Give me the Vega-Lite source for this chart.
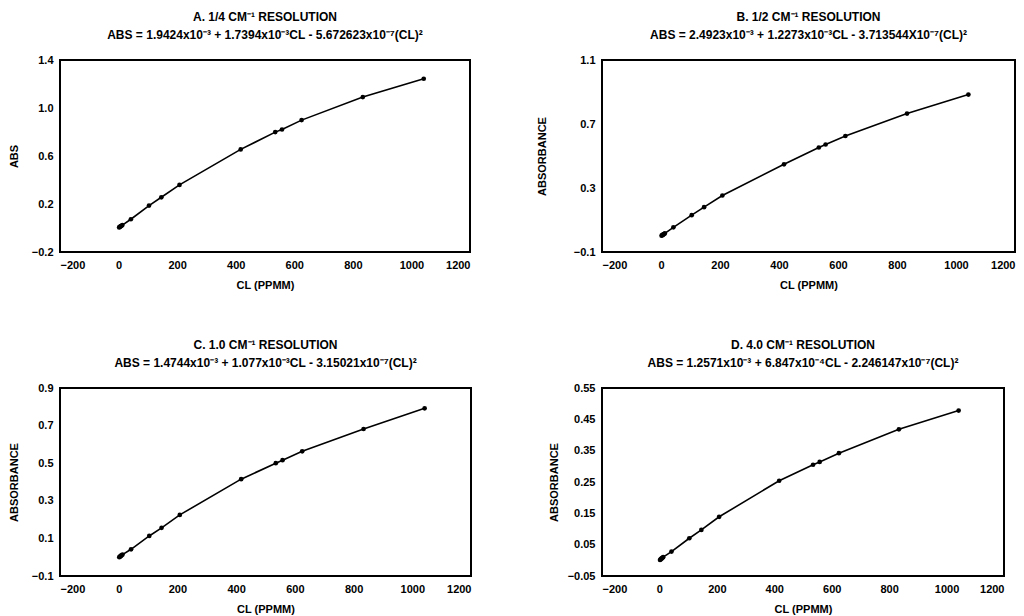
{
  "$schema": "https://vega.github.io/schema/vega-lite/v6.json",
  "background": "white",
  "padding": {"left": 7, "top": 10, "right": 2, "bottom": 2},
  "config": {
    "view": {"stroke": "black", "strokeWidth": 2},
    "axis": {"domain": false, "ticks": false, "grid": false, "labelFont": "Liberation Sans", "labelFontWeight": "bold", "labelFontSize": 11, "labelColor": "black", "titleFont": "Liberation Sans", "titleFontWeight": "bold", "titleFontSize": 11, "titleColor": "black"},
    "axisX": {"labelPadding": 7, "titlePadding": 9},
    "axisY": {"labelPadding": 7},
    "title": {"font": "Liberation Sans", "fontWeight": "bold", "fontSize": 12, "color": "black", "anchor": "middle", "offset": 12, "subtitleFont": "Liberation Sans", "subtitleFontWeight": "bold", "subtitleFontSize": 12, "subtitleColor": "black", "subtitlePadding": 6},
    "line": {"color": "black", "strokeWidth": 1.6},
    "point": {"color": "black", "filled": true, "size": 22, "opacity": 1}
  },
  "columns": 2,
  "spacing": {"row": 136, "column": 131},
  "bounds": "flush",
  "concat": [
    {
      "width": 410, "height": 192,
      "title": {"text": "A. 1/4 CM⁻¹ RESOLUTION", "subtitle": "ABS = 1.9424x10⁻³ + 1.7394x10⁻³CL - 5.672623x10⁻⁷(CL)²"},
      "data": {"values": [
        {"cl": 2, "abs": 0.005}, {"cl": 4, "abs": 0.009}, {"cl": 6, "abs": 0.012}, {"cl": 8, "abs": 0.016}, {"cl": 10, "abs": 0.019}, {"cl": 13, "abs": 0.024},
        {"cl": 42, "abs": 0.073}, {"cl": 104, "abs": 0.187}, {"cl": 146, "abs": 0.256}, {"cl": 208, "abs": 0.359}, {"cl": 417, "abs": 0.655},
        {"cl": 535, "abs": 0.799}, {"cl": 558, "abs": 0.821}, {"cl": 625, "abs": 0.899}, {"cl": 834, "abs": 1.091}, {"cl": 1042, "abs": 1.244}
      ]},
      "encoding": {
        "x": {"field": "cl", "type": "quantitative", "title": "CL  (PPMM)", "scale": {"domain": [-200, 1200], "nice": false, "zero": false}, "axis": {"values": [-200, 0, 200, 400, 600, 800, 1000, 1200], "format": "d"}},
        "y": {"field": "abs", "type": "quantitative", "title": "ABS", "scale": {"domain": [-0.2, 1.4], "nice": false, "zero": false}, "axis": {"values": [-0.2, 0.2, 0.6, 1.0, 1.4], "format": ".1f", "titlePadding": 12}}
      },
      "layer": [{"mark": "line"}, {"mark": "point"}]
    },
    {
      "width": 413, "height": 192,
      "title": {"text": "B. 1/2 CM⁻¹ RESOLUTION", "subtitle": "ABS = 2.4923x10⁻³ + 1.2273x10⁻³CL - 3.713544X10⁻⁷(CL)²"},
      "data": {"values": [
        {"cl": 2, "abs": 0.002}, {"cl": 4, "abs": 0.005}, {"cl": 6, "abs": 0.007}, {"cl": 8, "abs": 0.010}, {"cl": 10, "abs": 0.012}, {"cl": 13, "abs": 0.016},
        {"cl": 42, "abs": 0.054}, {"cl": 104, "abs": 0.130}, {"cl": 146, "abs": 0.180}, {"cl": 208, "abs": 0.253}, {"cl": 417, "abs": 0.448},
        {"cl": 535, "abs": 0.553}, {"cl": 558, "abs": 0.572}, {"cl": 625, "abs": 0.625}, {"cl": 834, "abs": 0.765}, {"cl": 1042, "abs": 0.884}
      ]},
      "encoding": {
        "x": {"field": "cl", "type": "quantitative", "title": "CL  (PPMM)", "scale": {"domain": [-200, 1200], "nice": false, "zero": false}, "axis": {"values": [-200, 0, 200, 400, 600, 800, 1000, 1200], "format": "d"}},
        "y": {"field": "abs", "type": "quantitative", "title": "ABSORBANCE", "scale": {"domain": [-0.1, 1.1], "nice": false, "zero": false}, "axis": {"values": [-0.1, 0.3, 0.7, 1.1], "format": ".1f", "titlePadding": 26}}
      },
      "layer": [{"mark": "line"}, {"mark": "point"}]
    },
    {
      "width": 411, "height": 188,
      "title": {"text": "C. 1.0 CM⁻¹ RESOLUTION", "subtitle": "ABS = 1.4744x10⁻³ + 1.077x10⁻³CL - 3.15021x10⁻⁷(CL)²"},
      "data": {"values": [
        {"cl": 2, "abs": 0.000}, {"cl": 4, "abs": 0.003}, {"cl": 6, "abs": 0.005}, {"cl": 8, "abs": 0.008}, {"cl": 10, "abs": 0.010}, {"cl": 13, "abs": 0.014},
        {"cl": 42, "abs": 0.042}, {"cl": 104, "abs": 0.113}, {"cl": 146, "abs": 0.156}, {"cl": 208, "abs": 0.225}, {"cl": 417, "abs": 0.415},
        {"cl": 535, "abs": 0.500}, {"cl": 558, "abs": 0.516}, {"cl": 625, "abs": 0.563}, {"cl": 834, "abs": 0.682}, {"cl": 1042, "abs": 0.792}
      ]},
      "encoding": {
        "x": {"field": "cl", "type": "quantitative", "title": "CL  (PPMM)", "scale": {"domain": [-200, 1200], "nice": false, "zero": false}, "axis": {"values": [-200, 0, 200, 400, 600, 800, 1000, 1200], "format": "d"}},
        "y": {"field": "abs", "type": "quantitative", "title": "ABSORBANCE", "scale": {"domain": [-0.1, 0.9], "nice": false, "zero": false}, "axis": {"values": [-0.1, 0.1, 0.3, 0.5, 0.7, 0.9], "format": ".1f", "titlePadding": 12}}
      },
      "layer": [{"mark": "line"}, {"mark": "point"}]
    },
    {
      "width": 402, "height": 188,
      "title": {"text": "D. 4.0 CM⁻¹ RESOLUTION", "subtitle": "ABS = 1.2571x10⁻³ + 6.847x10⁻⁴CL - 2.246147x10⁻⁷(CL)²"},
      "data": {"values": [
        {"cl": 2, "abs": 0.001}, {"cl": 4, "abs": 0.003}, {"cl": 6, "abs": 0.005}, {"cl": 8, "abs": 0.006}, {"cl": 10, "abs": 0.008}, {"cl": 13, "abs": 0.010},
        {"cl": 42, "abs": 0.028}, {"cl": 104, "abs": 0.0705}, {"cl": 146, "abs": 0.097}, {"cl": 208, "abs": 0.139}, {"cl": 417, "abs": 0.254},
        {"cl": 535, "abs": 0.305}, {"cl": 558, "abs": 0.314}, {"cl": 625, "abs": 0.342}, {"cl": 834, "abs": 0.418}, {"cl": 1042, "abs": 0.478}
      ]},
      "encoding": {
        "x": {"field": "cl", "type": "quantitative", "title": "CL  (PPMM)", "scale": {"domain": [-200, 1200], "nice": false, "zero": false}, "axis": {"values": [-200, 0, 200, 400, 600, 800, 1000, 1200], "format": "d"}},
        "y": {"field": "abs", "type": "quantitative", "title": "ABSORBANCE", "scale": {"domain": [-0.05, 0.55], "nice": false, "zero": false}, "axis": {"values": [-0.05, 0.05, 0.15, 0.25, 0.35, 0.45, 0.55], "format": ".2f", "titlePadding": 8}}
      },
      "layer": [{"mark": "line"}, {"mark": "point"}]
    }
  ]
}
